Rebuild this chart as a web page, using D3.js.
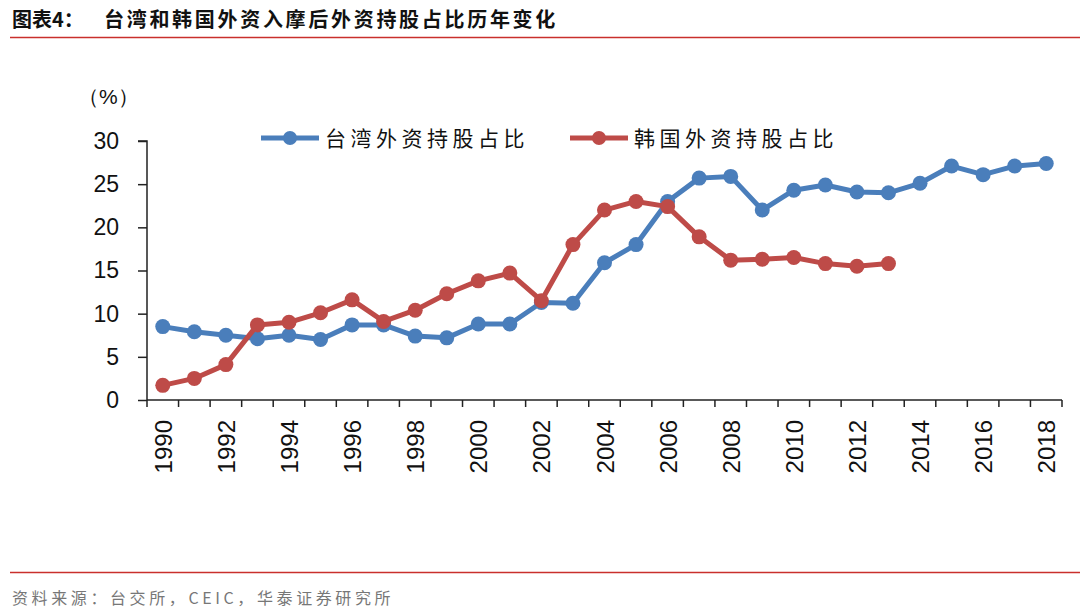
<!DOCTYPE html>
<html><head><meta charset="utf-8">
<script src="https://cdn.jsdelivr.net/npm/d3@7"></script>
<style>body{margin:0;background:#fff}svg{display:block}</style>
</head><body>
<svg id="c" width="1080" height="614"></svg>
<script>
const years = [1990,1991,1992,1993,1994,1995,1996,1997,1998,1999,2000,2001,2002,2003,2004,2005,2006,2007,2008,2009,2010,2011,2012,2013,2014,2015,2016,2017,2018];
const taiwan = [8.5,7.9,7.5,7.1,7.5,7.0,8.7,8.7,7.4,7.2,8.8,8.8,11.3,11.2,15.9,18.0,23.0,25.7,25.9,22.0,24.3,24.9,24.1,24.0,25.1,27.1,26.1,27.1,27.4];
const korea = [1.7,2.5,4.1,8.7,9.0,10.1,11.6,9.1,10.4,12.3,13.8,14.7,11.5,18.0,22.0,23.0,22.4,18.9,16.2,16.3,16.5,15.8,15.5,15.8];
const seriesNames = ["台湾外资持股占比","韩国外资持股占比"];
const yTicks = [0,5,10,15,20,25,30];
const xLabels = [1990,1992,1994,1996,1998,2000,2002,2004,2006,2008,2010,2012,2014,2016,2018];
const colors = ["#4A7EBB","#BE4B48"];

const svg = d3.select("#c");
const font = "Arial, 'Liberation Sans', sans-serif";
const cjk = "'Noto Sans CJK SC', sans-serif";

// title
svg.append("text").attr("x",12).attr("y",27).attr("font-family",cjk).attr("font-weight","bold")
  .attr("font-size",20).attr("fill","#111").text("图表4：");
svg.append("text").attr("x",104).attr("y",27).attr("font-family",cjk).attr("font-weight","bold")
  .attr("font-size",20).attr("fill","#111").attr("letter-spacing",2.7).text("台湾和韩国外资入摩后外资持股占比历年变化");
svg.append("line").attr("x1",10).attr("x2",1080).attr("y1",37.5).attr("y2",37.5).attr("stroke","#C9302C").attr("stroke-width",1.5);
svg.append("line").attr("x1",10).attr("x2",1080).attr("y1",572.5).attr("y2",572.5).attr("stroke","#C9302C").attr("stroke-width",1.5);
svg.append("text").attr("x",12).attr("y",604).attr("font-family",cjk).attr("font-size",16).attr("fill","#777")
  .attr("letter-spacing",3.6).text("资料来源：台交所，CEIC，华泰证券研究所");

const pL=147, pR=1062, pT=141, pB=400;
const x = d3.scaleBand().domain(years).range([pL,pR]);
const y = d3.scaleLinear().domain([0,30]).range([pB,pT]);

// y axis
const ya = svg.append("g").attr("transform",`translate(${pL},0)`)
  .call(d3.axisLeft(y).tickValues(yTicks).tickSize(9).tickPadding(19));
ya.select(".domain").attr("stroke","#222").attr("stroke-width",1.5).attr("d",`M-9,${pT}H0V${pB}`);
ya.selectAll(".tick line").attr("stroke","#222").attr("stroke-width",1.5);
ya.selectAll("text").attr("font-family",font).attr("font-size",23).attr("fill","#111");

svg.append("text").attr("x",78).attr("y",104).attr("font-family",font).attr("font-size",21).attr("fill","#111").text("（%）");

// x axis
const xa = svg.append("g").attr("transform",`translate(0,${pB})`);
xa.append("line").attr("x1",pL).attr("x2",pR).attr("y1",0).attr("y2",0).attr("stroke","#222").attr("stroke-width",1.5);
const edges = years.map(d=>x(d)).concat([pR]);
xa.selectAll("line.t").data(edges).join("line").attr("class","t")
  .attr("x1",d=>d).attr("x2",d=>d).attr("y1",0).attr("y2",7).attr("stroke","#222").attr("stroke-width",1.5);
xa.selectAll("text").data(xLabels).join("text")
  .attr("transform",d=>`translate(${x(d)+x.bandwidth()/2+9},20) rotate(-90)`)
  .attr("text-anchor","end").attr("font-family",font).attr("font-size",24).attr("fill","#111").text(d=>d);

// lines
const line = d3.line().x((d,i)=>x(years[i])+x.bandwidth()/2).y(d=>y(d));
[taiwan,korea].forEach((s,k)=>{
  svg.append("path").attr("d",line(s)).attr("fill","none").attr("stroke",colors[k]).attr("stroke-width",5).attr("stroke-linejoin","round");
  svg.selectAll(null).data(s).join("circle").attr("cx",(d,i)=>x(years[i])+x.bandwidth()/2).attr("cy",d=>y(d))
    .attr("r",7.5).attr("fill",colors[k]);
});

// legend
const leg = [{x:261,tx:325},{x:570,tx:634}];
leg.forEach((l,k)=>{
  svg.append("line").attr("x1",l.x).attr("x2",l.x+58).attr("y1",138).attr("y2",138).attr("stroke",colors[k]).attr("stroke-width",5);
  svg.append("circle").attr("cx",l.x+29).attr("cy",138).attr("r",7).attr("fill",colors[k]);
  svg.append("text").attr("x",l.tx).attr("y",146).attr("font-family",cjk).attr("font-size",21).attr("fill","#111")
    .attr("letter-spacing",4.5).text(seriesNames[k]);
});
</script>
</body></html>
